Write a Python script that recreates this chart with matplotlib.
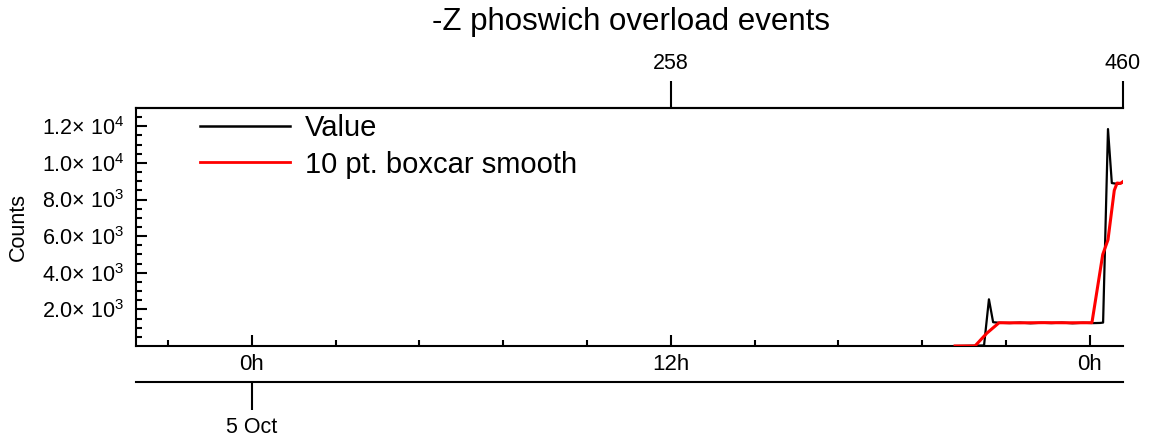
import matplotlib
matplotlib.use("Agg")
import matplotlib.pyplot as plt

plt.rcParams['font.family'] = ['Liberation Sans', 'DejaVu Sans']
plt.rcParams['mathtext.fontset'] = 'custom'
plt.rcParams['mathtext.rm'] = 'Liberation Sans'
plt.rcParams['mathtext.it'] = 'Liberation Sans:italic'
plt.rcParams['mathtext.bf'] = 'Liberation Sans:bold'

# ---- data (x in hours since 0h on 5 Oct) ----
value_hours = [20.14, 20.97, 21.11, 21.23, 21.4, 21.7, 22.0, 22.3, 22.6, 22.9,
               23.2, 23.5, 23.8, 24.1, 24.3, 24.38, 24.52, 24.63, 24.81, 24.95]
value_counts = [0, 30, 2550, 1300, 1270, 1250, 1280, 1240, 1270, 1250,
                1280, 1240, 1270, 1250, 1260, 1280, 11850, 8900, 8850, 8950]

smooth_hours = [20.14, 20.71, 21.05, 21.40, 22.0, 22.7, 23.4, 24.06,
                24.37, 24.52, 24.70, 24.78, 24.88, 24.95]
smooth_counts = [0, 0, 700, 1270, 1265, 1275, 1268, 1272,
                 5000, 5800, 8500, 8900, 8880, 8980]

ytick_values = [2000, 4000, 6000, 8000, 10000, 12000]
ytick_labels = ['2.0× 10$^{3}$', '4.0× 10$^{3}$', '6.0× 10$^{3}$',
                '8.0× 10$^{3}$', '1.0× 10$^{4}$', '1.2× 10$^{4}$']
xtick_hours = [0, 12, 24]
xtick_labels = ['0h', '12h', '0h']
top_tick_hours = [12.0, 24.95]
top_tick_labels = ['258', '460']
date_tick_hours = [0]
date_tick_labels = ['5 Oct']

title = '-Z phoswich overload events'

W, H = 1151, 442
fig = plt.figure(figsize=(W / 100, H / 100), dpi=100)
L, R, T, B = 136, 1123, 108, 346
ax = fig.add_axes([L / W, 1 - B / H, (R - L) / W, (B - T) / H])

ax.plot(value_hours, value_counts, color='black', lw=1.6, label='Value', zorder=3)
ax.plot(smooth_hours, smooth_counts, color='#ff0000', lw=2.2,
        label='10 pt. boxcar smooth', zorder=4)

ax.set_xlim(-3.32, 24.95)
ax.set_ylim(0, 13000)

for s in ['left', 'bottom', 'top']:
    ax.spines[s].set_linewidth(1.5)
ax.spines['right'].set_visible(False)

ax.set_yticks(ytick_values)
ax.set_yticklabels(ytick_labels)
ax.set_yticks([v for v in range(500, 13000, 500) if v % 2000 != 0], minor=True)
ax.set_xticks(xtick_hours)
ax.set_xticklabels(xtick_labels)
ax.set_xticks([-2.4, 2.4, 4.8, 7.2, 9.6, 14.4, 16.8, 19.2, 21.6], minor=True)

ax.tick_params(axis='both', which='major', direction='in', length=8, width=1.5,
               labelsize=15.5)
ax.tick_params(axis='both', which='minor', direction='in', length=4, width=1.5)
ax.tick_params(axis='y', which='major', pad=8.6)
ax.tick_params(axis='x', which='major', pad=5.5, labelsize=16)
ax.tick_params(top=False, right=False, which='both')

ax.set_ylabel('Counts', fontsize=15.5)
ax.yaxis.set_label_coords(-(L - 29) / (R - L), 0.5)

# top axis (point index)
top = ax.secondary_xaxis('top')
top.set_xticks(top_tick_hours)
top.set_xticklabels(top_tick_labels)
top.tick_params(direction='out', length=19.4, width=1.5, pad=5, labelsize=15.5)
top.xaxis.set_minor_locator(matplotlib.ticker.NullLocator())
top.spines['top'].set_linewidth(1.5)

# date axis
date_ax = ax.secondary_xaxis(-(382 - B) / (B - T))
date_ax.set_xticks(date_tick_hours)
date_ax.set_xticklabels(date_tick_labels)
date_ax.tick_params(direction='out', length=20, width=1.5, pad=5, labelsize=15.5)
date_ax.xaxis.set_minor_locator(matplotlib.ticker.NullLocator())
date_ax.spines['bottom'].set_linewidth(1.5)

leg = ax.legend(loc='upper left', bbox_to_anchor=((197 - L) / (R - L), 0.985),
                frameon=False, fontsize=21, handlelength=3.1, handletextpad=0.5,
                borderpad=0, borderaxespad=0.1, labelspacing=0.28)
for line in leg.get_lines():
    line.set_linewidth(1.8)
leg.get_lines()[1].set_linewidth(2.0)

fig.text(631 / W, 1 - 22 / H, title, ha='center', va='center', fontsize=22.5)

fig.savefig('out.png', dpi=100)
